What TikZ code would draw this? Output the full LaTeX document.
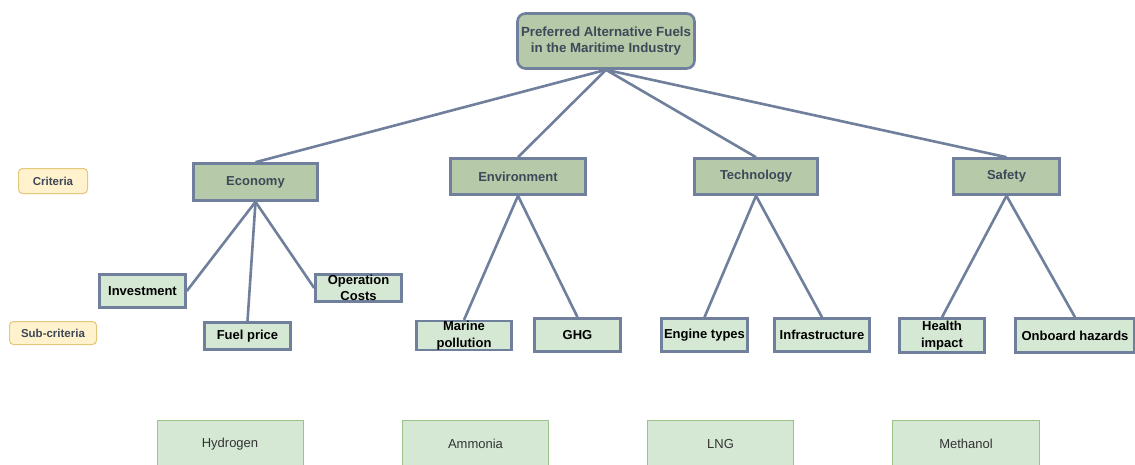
\documentclass[tikz,border=0pt]{standalone}
\usepackage{fontspec}
\setmainfont{Liberation Sans}
\definecolor{edgecol}{HTML}{6F7F9C}
\definecolor{critfill}{HTML}{B6CAA9}
\definecolor{subfill}{HTML}{D5E8D4}
\definecolor{crittext}{HTML}{3D4858}
\definecolor{legfill}{HTML}{FFF2CC}
\definecolor{legdraw}{HTML}{E3C77A}
\definecolor{altdraw}{HTML}{9CC38A}
\definecolor{alttext}{HTML}{333333}
\tikzset{
  base/.style={draw=edgecol, line width=2.6pt, inner sep=0pt, align=center},
  topbox/.style={base, fill=critfill, rounded corners=8pt, text=crittext, font=\fontsize{13.3}{16}\selectfont\bfseries},
  critbox/.style={base, fill=critfill, text=crittext, font=\fontsize{13}{15}\selectfont\bfseries},
  subbox/.style={base, fill=subfill, text=black, font=\fontsize{13}{16.5}\selectfont\bfseries},
  legbox/.style={draw=legdraw, line width=1pt, fill=legfill, rounded corners=4pt, inner sep=0pt, text=crittext, font=\fontsize{11.5}{13}\selectfont\bfseries},
  altbox/.style={draw=altdraw, line width=0.9pt, fill=subfill, inner sep=0pt, text=alttext, font=\fontsize{13}{15}\selectfont},
  conn/.style={draw=edgecol, line width=2.6pt}
}
\begin{document}
\begin{tikzpicture}[x=1pt,y=-1pt]
\useasboundingbox[fill=white] (0,0) rectangle (1135,464);
% top
\node[topbox, minimum width=177pt, minimum height=55pt] (top) at (606,41) {Preferred Alternative Fuels\\in the Maritime Industry};
% criteria
\node[critbox, minimum width=124pt, minimum height=37pt] (eco) at (255.5,182) {Economy};
\node[critbox, minimum width=135pt, minimum height=36pt] (env) at (518,176.5) {Environment};
\node[critbox, minimum width=123pt, minimum height=36pt] (tech) at (756,176.5) {Technology};
\node[critbox, minimum width=106pt, minimum height=36pt] (saf) at (1006.5,176.5) {Safety};
% sub-criteria
\node[subbox, minimum width=86pt, minimum height=33pt] (inv) at (142.5,291) {Investment};
\node[subbox, minimum width=86pt, minimum height=27pt] (fuel) at (247.5,336) {Fuel price};
\node[subbox, minimum width=86pt, minimum height=27pt] (opc) at (358.5,288) {Operation\\Costs};
\node[subbox, minimum width=95pt, minimum height=28pt] (mar) at (464,335.5) {Marine\\pollution};
\node[subbox, minimum width=86pt, minimum height=33pt] (ghg) at (577.5,335) {GHG};
\node[subbox, minimum width=86pt, minimum height=33pt] (eng) at (704.5,335) {Engine types};
\node[subbox, minimum width=95pt, minimum height=33pt] (inf) at (822,335) {Infrastructure};
\node[subbox, minimum width=85pt, minimum height=34pt] (hea) at (942,335.5) {Health\\impact};
\node[subbox, minimum width=119pt, minimum height=34pt] (onb) at (1075,335.5) {Onboard hazards};
% legend
\node[legbox, minimum width=69pt, minimum height=25pt] (lcrit) at (53,181) {Criteria};
\node[legbox, minimum width=87pt, minimum height=23pt] (lsub) at (53,333) {Sub-criteria};
% alternatives
\node[altbox, minimum width=146pt, minimum height=48pt] (hyd) at (230,444) {Hydrogen};
\node[altbox, minimum width=146pt, minimum height=48pt] (amm) at (475.5,444) {Ammonia};
\node[altbox, minimum width=146pt, minimum height=48pt] (lng) at (720.5,444) {LNG};
\node[altbox, minimum width=147pt, minimum height=48pt] (met) at (966,444) {Methanol};
% connectors
\draw[conn] (top.south) -- (eco.north);
\draw[conn] (top.south) -- (env.north);
\draw[conn] (top.south) -- (tech.north);
\draw[conn] (top.south) -- (saf.north);
\draw[conn] (eco.south) -- (inv.east);
\draw[conn] (eco.south) -- (fuel.north);
\draw[conn] (eco.south) -- (opc.west);
\draw[conn] (env.south) -- (mar.north);
\draw[conn] (env.south) -- (ghg.north);
\draw[conn] (tech.south) -- (eng.north);
\draw[conn] (tech.south) -- (inf.north);
\draw[conn] (saf.south) -- (hea.north);
\draw[conn] (saf.south) -- (onb.north);
\end{tikzpicture}
\end{document}
